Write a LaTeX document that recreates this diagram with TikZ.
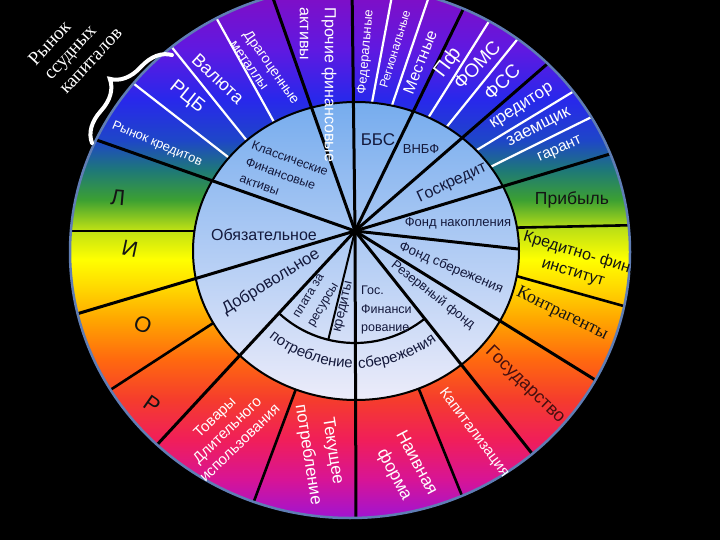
\documentclass[tikz,border=0pt]{standalone}
\usepackage{fontspec}
\setmainfont{Liberation Sans}
\newfontfamily\timesfnt{Liberation Serif}
\usepackage{xcolor}
\usepackage{tikz}
\usetikzlibrary{
  calc,
  decorations.pathreplacing,
  decorations.text
}
\newcommand{\fsz}[2]{\fontsize{#1}{#2}\selectfont}
% ring colours, bottom to top
\definecolor{rc0}{RGB}{160,20,210}
\definecolor{rc1}{RGB}{215,20,150}
\definecolor{rc2}{RGB}{240,30,90}
\definecolor{rc3}{RGB}{245,60,45}
\definecolor{rc4}{RGB}{255,105,15}
\definecolor{rc5}{RGB}{255,165,0}
\definecolor{rc6}{RGB}{255,220,0}
\definecolor{rc7}{RGB}{255,255,0}
\definecolor{rc8}{RGB}{190,225,20}
\definecolor{rc9}{RGB}{60,160,50}
\definecolor{rc10}{RGB}{30,120,120}
\definecolor{rc11}{RGB}{30,70,200}
\definecolor{rc12}{RGB}{40,40,235}
\definecolor{rc13}{RGB}{95,25,225}
\definecolor{rc14}{RGB}{125,15,200}
\definecolor{innertop}{RGB}{118,172,238}
\definecolor{innermid}{RGB}{172,203,245}
\definecolor{innerbot}{RGB}{236,236,250}
\definecolor{innerink}{RGB}{20,25,60}
\definecolor{darkink}{RGB}{20,20,20}
\definecolor{statebrown}{RGB}{70,15,15}
\definecolor{rimblue}{RGB}{95,125,180}
\pgfdeclareverticalshading{ringshade}{100bp}{
  color(0bp)=(rc0); color(25bp)=(rc0); color(28.6bp)=(rc1);
  color(32.3bp)=(rc2); color(36.1bp)=(rc3); color(39.9bp)=(rc4);
  color(43.6bp)=(rc5); color(46.9bp)=(rc6); color(49.3bp)=(rc7);
  color(52.1bp)=(rc8); color(54.9bp)=(rc9); color(57.7bp)=(rc10);
  color(60.5bp)=(rc11); color(64.3bp)=(rc12); color(69bp)=(rc13);
  color(73.7bp)=(rc14); color(100bp)=(rc14)}
\tikzset{
  whitetxt/.style={text=white,inner sep=0pt,align=center},
  darktxt/.style={text=darkink,inner sep=0pt,align=center},
  innertxt/.style={text=innerink,inner sep=0pt,align=center},
  fullray/.style={line width=3pt,draw=black},
  ringray/.style={line width=2.6pt,draw=black},
  splitray/.style={line width=2.2pt,draw=white}
}

\begin{document}
\begin{tikzpicture}[x=1pt,y=-1pt]
  \useasboundingbox (0,0) rectangle (720,540);
  \fill[black] (0,0) rectangle (720,540);
  \coordinate (hub) at (355,231);
  \coordinate (oc) at (350,252);
  \coordinate (ic) at (356,251);
  \begin{scope}
    \clip (0,0) rectangle (720,540);
    \shade[shading=ringshade] (oc) ellipse [x radius=280pt,y radius=266pt];
    \begin{scope}
      \clip (oc) ellipse [x radius=280pt,y radius=266pt];
      % rays of the ring only
      \foreach \a in {180,213,249.5,292,1.2,344.4}
        \draw[ringray] (hub) -- ++(\a:420pt);
      % white splits
      \draw[splitray] (197,-17) -- (290,151);
      \draw[splitray] (158,30) -- (260,157);
      \draw[splitray] (111,66) -- (246,171);
      \draw[splitray] (397,-31) -- (368,124);
      \draw[splitray] (438,-30) -- (387,120);
      \draw[splitray] (510,-12) -- (418,134);
      \draw[splitray] (533,20) -- (432,145);
      \draw[splitray] (594,79) -- (462,159);
      \draw[splitray] (620,103) -- (470,177);
      % inner disc
      \shade[top color=innertop,middle color=innermid,bottom color=innerbot]
        (ic) ellipse [x radius=163pt,y radius=149pt];
      \draw[line width=2pt] (ic) ellipse [x radius=163pt,y radius=149pt];
      \foreach \a in {90.7,109.4,160.6,196.6,227.2,270.2,308.5,328.2,64,41,16.8}
        \draw[fullray] (hub) -- ++(\a:420pt);
    \end{scope}
    \begin{scope}
      \clip (ic) ellipse [x radius=163pt,y radius=149pt];
      \draw[fullray] (hub) -- ++(353.7:200pt);
    \end{scope}
    \draw[line width=2pt] (hub) -- ++(256.2:112pt);
    \draw[line width=2.2pt] ($(hub)+(227.2:112pt)$)
      arc [start angle=227.2,end angle=308.5,radius=112pt];
    \draw[draw=rimblue,line width=2.5pt] (oc) ellipse [x radius=280pt,y radius=266pt];
  \end{scope}

  % ring, upper left
  \node[whitetxt,align=left,rotate=-90,font=\fsz{16}{25}] (prochie) at (318,85) {Прочие финансовые\\активы};
  \node[whitetxt,align=left,rotate=-55,font=\fsz{14}{17}] (dragmet) at (265,72) {Драгоценные\\металлы};
  \node[whitetxt,rotate=-43,font=\fsz{18}{18}] (valuta) at (218,79) {Валюта};
  \node[whitetxt,rotate=-39,font=\fsz{19}{19}] (rcb) at (187,97) {РЦБ};
  \node[whitetxt,rotate=-23,font=\fsz{13}{13}] (rynokkr) at (157,144) {Рынок кредитов};
  \node[darktxt,rotate=-5,font=\fsz{22}{22}] (bukvaL) at (118,198) {Л};
  \node[darktxt,rotate=-12,font=\fsz{22}{22}] (bukvaI) at (130,249) {И};
  \node[darktxt,rotate=-22,font=\fsz{22}{22}] (bukvaO) at (143,325) {О};
  \node[darktxt,rotate=-35,font=\fsz{22}{22}] (bukvaR) at (152,405) {Р};
  % ring, lower half
  \node[whitetxt,rotate=44,font=\fsz{15}{18}] (tovary) at (227,430) {Товары\\Длительного\\использования};
  \node[whitetxt,rotate=-81,font=\fsz{17}{25}] (tekushee) at (320,453) {Текущее\\потребление};
  \node[whitetxt,rotate=-62,font=\fsz{17.5}{25}] (naivnaya) at (405,469) {Наивная\\форма};
  \node[whitetxt,rotate=-53,font=\fsz{15}{15}] (kapital) at (474,433) {Капитализация};
  \node[darktxt,text=statebrown,rotate=-44,font=\fsz{18}{18}] (gosudar) at (525,385) {Государство};
  \node[darktxt,rotate=-26,font=\timesfnt\fsz{18}{18}] (kontrag) at (562,314) {Контрагенты};
  \node[darktxt,rotate=-17,font=\fsz{16}{20}] (kfi) at (576,263) {Кредитно- фин.\\институт};
  \node[darktxt,font=\fsz{17.5}{17.5}] (pribyl) at (572,200) {Прибыль};
  % ring, upper right
  \node[whitetxt,rotate=24,font=\fsz{15.5}{15.5}] (garant) at (560,150) {гарант};
  \node[whitetxt,rotate=27,font=\fsz{17}{17}] (zaem) at (539,128) {заемщик};
  \node[whitetxt,rotate=33,font=\fsz{17}{17}] (kreditor) at (522,107) {кредитор};
  \node[whitetxt,rotate=44,font=\fsz{19}{19}] (fss) at (502,82) {ФСС};
  \node[whitetxt,rotate=47,font=\fsz{19}{19}] (foms) at (477,65) {ФОМС};
  \node[whitetxt,rotate=53,font=\fsz{20}{20}] (pf) at (448,63) {Пф};
  \node[whitetxt,rotate=68.5,font=\fsz{16}{16}] (mestn) at (420,62) {Местные};
  \node[whitetxt,rotate=73,font=\fsz{12}{12}] (region) at (395,49) {Региональные};
  \node[whitetxt,rotate=85,font=\fsz{13}{13}] (feder) at (366,52) {Федеральные};

  % inner disc
  \node[innertxt,align=left,rotate=-20,font=\fsz{12.5}{17.5}] (klass) at (284,175) {Классические\\Финансовые\\активы};
  \node[innertxt,font=\fsz{17}{17}] (bbs) at (378,140) {ББС};
  \node[innertxt,font=\fsz{13}{13}] (vnbf) at (421,149) {ВНБФ};
  \node[innertxt,rotate=25,font=\fsz{16}{16}] (goskr) at (452,183) {Госкредит};
  \node[innertxt,font=\fsz{13}{13}] (fnak) at (458,223) {Фонд накопления};
  \node[innertxt,rotate=-23,font=\fsz{13.4}{13.4}] (fsber) at (451,268) {Фонд сбережения};
  \node[innertxt,rotate=-38,font=\fsz{13}{13}] (rezerv) at (433,295) {Резервный фонд};
  \node[innertxt,font=\fsz{16}{16}] (obyaz) at (264,235) {Обязательное};
  \node[innertxt,rotate=31.5,font=\fsz{16.5}{16.5}] (dobrov) at (271,282) {Добровольное};
  \node[innertxt,rotate=59,font=\fsz{12.5}{17}] (plata) at (317,301) {плата за\\ресурсы};
  \node[innertxt,rotate=77,font=\fsz{13.5}{13.5}] (kredity) at (344,307) {кредиты};
  \node[innertxt,align=left,anchor=west,font=\fsz{12.5}{18.5}] (gosfin) at (361,310) {Гос.\\Финанси\\рование};
  \path[decorate,decoration={text along path,text align=center,
      text={|\fsz{15}{15}\color{innerink}|потребление}}]
    ($(hub)+(229:137pt)$) arc [start angle=229,end angle=271,radius=137pt];
  \path[decorate,decoration={text along path,text align=center,
      text={|\fsz{15}{15}\color{innerink}|сбережения}}]
    ($(hub)+(268:137pt)$) arc [start angle=268,end angle=310,radius=137pt];

  % brace and its caption
  \draw[white,line width=4pt,line cap=round,decorate,
    decoration={brace,amplitude=30pt}] (92,143) -- (172,55);
  \node[whitetxt,align=left,rotate=47,font=\timesfnt\fsz{19}{21}] (ssud) at (75,46) {Рынок\\ссудных\\капиталов};
\end{tikzpicture}
\end{document}
